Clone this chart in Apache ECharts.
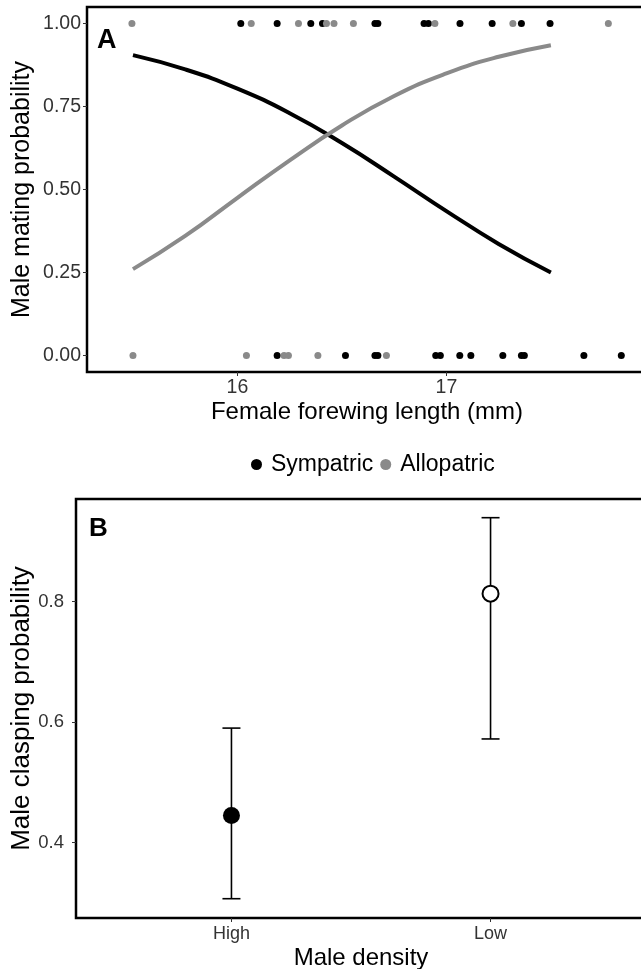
<!DOCTYPE html>
<html>
<head>
<meta charset="utf-8">
<script src="https://cdn.jsdelivr.net/npm/echarts@6/dist/echarts.min.js"></script>
<style>
  html, body { margin: 0; padding: 0; background: #fff; }
  #chart { width: 641px; height: 969px; }
</style>
</head>
<body>
<div id="chart"></div>
<script>
// Panel A: female forewing length (mm) of each trial, split by outcome (1 = mated, 0 = not)
const symMatedX = [16.016, 16.19, 16.351, 16.407, 16.658, 16.672, 16.893, 16.914, 17.065, 17.219, 17.359, 17.496];
const symUnmatedX = [16.19, 16.517, 16.658, 16.672, 16.949, 16.971, 17.064, 17.117, 17.27, 17.359, 17.373, 17.658, 17.837];
const alloMatedX = [15.495, 16.066, 16.292, 16.426, 16.462, 16.555, 16.945, 17.318, 17.775];
const alloUnmatedX = [15.5, 16.043, 16.223, 16.244, 16.385, 16.713];

// fitted curves
const fitX = [15.5, 15.75, 16, 16.25, 16.5, 16.75, 17, 17.25, 17.5];
const symFit = [0.905, 0.862, 0.804, 0.73, 0.64, 0.539, 0.435, 0.336, 0.25];
const alloFit = [0.26, 0.36, 0.475, 0.588, 0.693, 0.782, 0.85, 0.9, 0.935];

const xTicksA = [16, 17];
const yTicksA = [0, 0.25, 0.5, 0.75, 1];

// Panel B
const densityLevels = ['High', 'Low'];
const claspMean = [0.445, 0.813];
const claspLower = [0.307, 0.572];
const claspUpper = [0.59, 0.939];
const yTicksB = [0.4, 0.6, 0.8];

const FONT = 'Liberation Sans, Arial, sans-serif';
const GREY = '#8a8a8a';

const chart = echarts.init(document.getElementById('chart'));

const toPoints = (xs, y) => xs.map(x => [x, y]);
const zip = (xs, ys) => xs.map((x, i) => [x, ys[i]]);

const tickLabel = { fontFamily: FONT, fontSize: 19.5, color: '#333' };
const axisName = { fontFamily: FONT, fontSize: 24, color: '#000' };

const option = {
  animation: false,
  title: [
    { text: 'A', left: 97, top: 27, textStyle: { fontFamily: FONT, fontSize: 27, fontWeight: 'bold', color: '#000' }, padding: 0 },
    { text: 'B', left: 89, top: 516, textStyle: { fontFamily: FONT, fontSize: 26, fontWeight: 'bold', color: '#000' }, padding: 0 }
  ],
  legend: {
    data: [
      { name: 'Sympatric', icon: 'circle', itemStyle: { color: '#000' } },
      { name: 'Allopatric', icon: 'circle', itemStyle: { color: GREY } }
    ],
    left: 246,
    top: 448,
    itemWidth: 11,
    itemHeight: 11,
    itemGap: 7,
    textStyle: { fontFamily: FONT, fontSize: 23, color: '#000', padding: [0, 0, 0, 4] }
  },
  grid: [
    { left: 87, top: 7, width: 560, height: 365, show: true, borderColor: '#000', borderWidth: 2.5, outerBoundsMode: 'none' },
    { left: 76, top: 499, width: 570, height: 419, show: true, borderColor: '#000', borderWidth: 2.5, outerBoundsMode: 'none' }
  ],
  xAxis: [
    {
      gridIndex: 0, type: 'value', min: 15.28, max: 17.96,
      name: 'Female forewing length (mm)', nameLocation: 'middle', nameGap: 28, nameTextStyle: axisName,
      axisLine: { show: false, onZero: false },
      splitLine: { show: false },
      axisTick: { show: true, length: 4, customValues: xTicksA, lineStyle: { color: '#333' } },
      axisLabel: Object.assign({ margin: 6, customValues: xTicksA }, tickLabel)
    },
    {
      gridIndex: 1, type: 'value', min: 0.4, max: 2.6,
      name: 'Male density', nameLocation: 'middle', nameGap: 28, nameTextStyle: axisName,
      axisLine: { show: false, onZero: false },
      splitLine: { show: false },
      axisTick: { show: true, length: 4, customValues: [1, 2], lineStyle: { color: '#333' } },
      axisLabel: Object.assign({
        margin: 7, customValues: [1, 2],
        formatter: v => densityLevels[Math.round(v) - 1]
      }, tickLabel, { fontSize: 18 })
    }
  ],
  yAxis: [
    {
      gridIndex: 0, type: 'value', min: -0.05, max: 1.05,
      name: 'Male mating probability', nameLocation: 'middle', nameGap: 52, nameMoveOverlap: false,
      nameTextStyle: Object.assign({}, axisName, { fontSize: 25 }),
      axisLine: { show: false, onZero: false },
      splitLine: { show: false },
      axisTick: { show: true, length: 4, customValues: yTicksA, lineStyle: { color: '#333' } },
      axisLabel: Object.assign({ margin: 6, customValues: yTicksA, formatter: v => v.toFixed(2) }, tickLabel)
    },
    {
      gridIndex: 1, type: 'value', min: 0.275, max: 0.97,
      name: 'Male clasping probability', nameLocation: 'middle', nameGap: 41, nameMoveOverlap: false,
      nameTextStyle: Object.assign({}, axisName, { fontSize: 26 }),
      axisLine: { show: false, onZero: false },
      splitLine: { show: false },
      axisTick: { show: true, length: 4, customValues: yTicksB, lineStyle: { color: '#333' } },
      axisLabel: Object.assign({ margin: 12, customValues: yTicksB, formatter: v => v.toFixed(1) }, tickLabel, { fontSize: 18.5 })
    }
  ],
  series: [
    {
      name: 'Sympatric', type: 'scatter', xAxisIndex: 0, yAxisIndex: 0,
      symbolSize: 7, itemStyle: { color: '#000', opacity: 1 },
      data: toPoints(symMatedX, 1).concat(toPoints(symUnmatedX, 0))
    },
    {
      name: 'Allopatric', type: 'scatter', xAxisIndex: 0, yAxisIndex: 0,
      symbolSize: 7, itemStyle: { color: GREY, opacity: 1 },
      data: toPoints(alloMatedX, 1).concat(toPoints(alloUnmatedX, 0))
    },
    {
      name: 'Sympatric', type: 'line', xAxisIndex: 0, yAxisIndex: 0,
      smooth: true, showSymbol: false, symbol: 'none',
      lineStyle: { color: '#000', width: 4 },
      data: zip(fitX, symFit)
    },
    {
      name: 'Allopatric', type: 'line', xAxisIndex: 0, yAxisIndex: 0,
      smooth: true, showSymbol: false, symbol: 'none',
      lineStyle: { color: GREY, width: 4 },
      data: zip(fitX, alloFit)
    },
    {
      type: 'custom', xAxisIndex: 1, yAxisIndex: 1,
      renderItem: (params, api) => {
        const x = api.value(0);
        const lo = api.coord([x, api.value(1)]);
        const hi = api.coord([x, api.value(2)]);
        const half = 9;
        const style = { stroke: '#000', lineWidth: 1.6 };
        return {
          type: 'group',
          children: [
            { type: 'line', shape: { x1: hi[0], y1: hi[1], x2: lo[0], y2: lo[1] }, style },
            { type: 'line', shape: { x1: hi[0] - half, y1: hi[1], x2: hi[0] + half, y2: hi[1] }, style },
            { type: 'line', shape: { x1: lo[0] - half, y1: lo[1], x2: lo[0] + half, y2: lo[1] }, style }
          ]
        };
      },
      data: densityLevels.map((d, i) => [i + 1, claspLower[i], claspUpper[i]])
    },
    {
      type: 'scatter', xAxisIndex: 1, yAxisIndex: 1, z: 5,
      data: [
        { value: [1, claspMean[0]], symbolSize: 17, itemStyle: { color: '#000', opacity: 1 } },
        { value: [2, claspMean[1]], symbolSize: 16, itemStyle: { color: '#fff', borderColor: '#000', borderWidth: 2, opacity: 1 } }
      ]
    }
  ]
};

chart.setOption(option);
</script>
</body>
</html>
